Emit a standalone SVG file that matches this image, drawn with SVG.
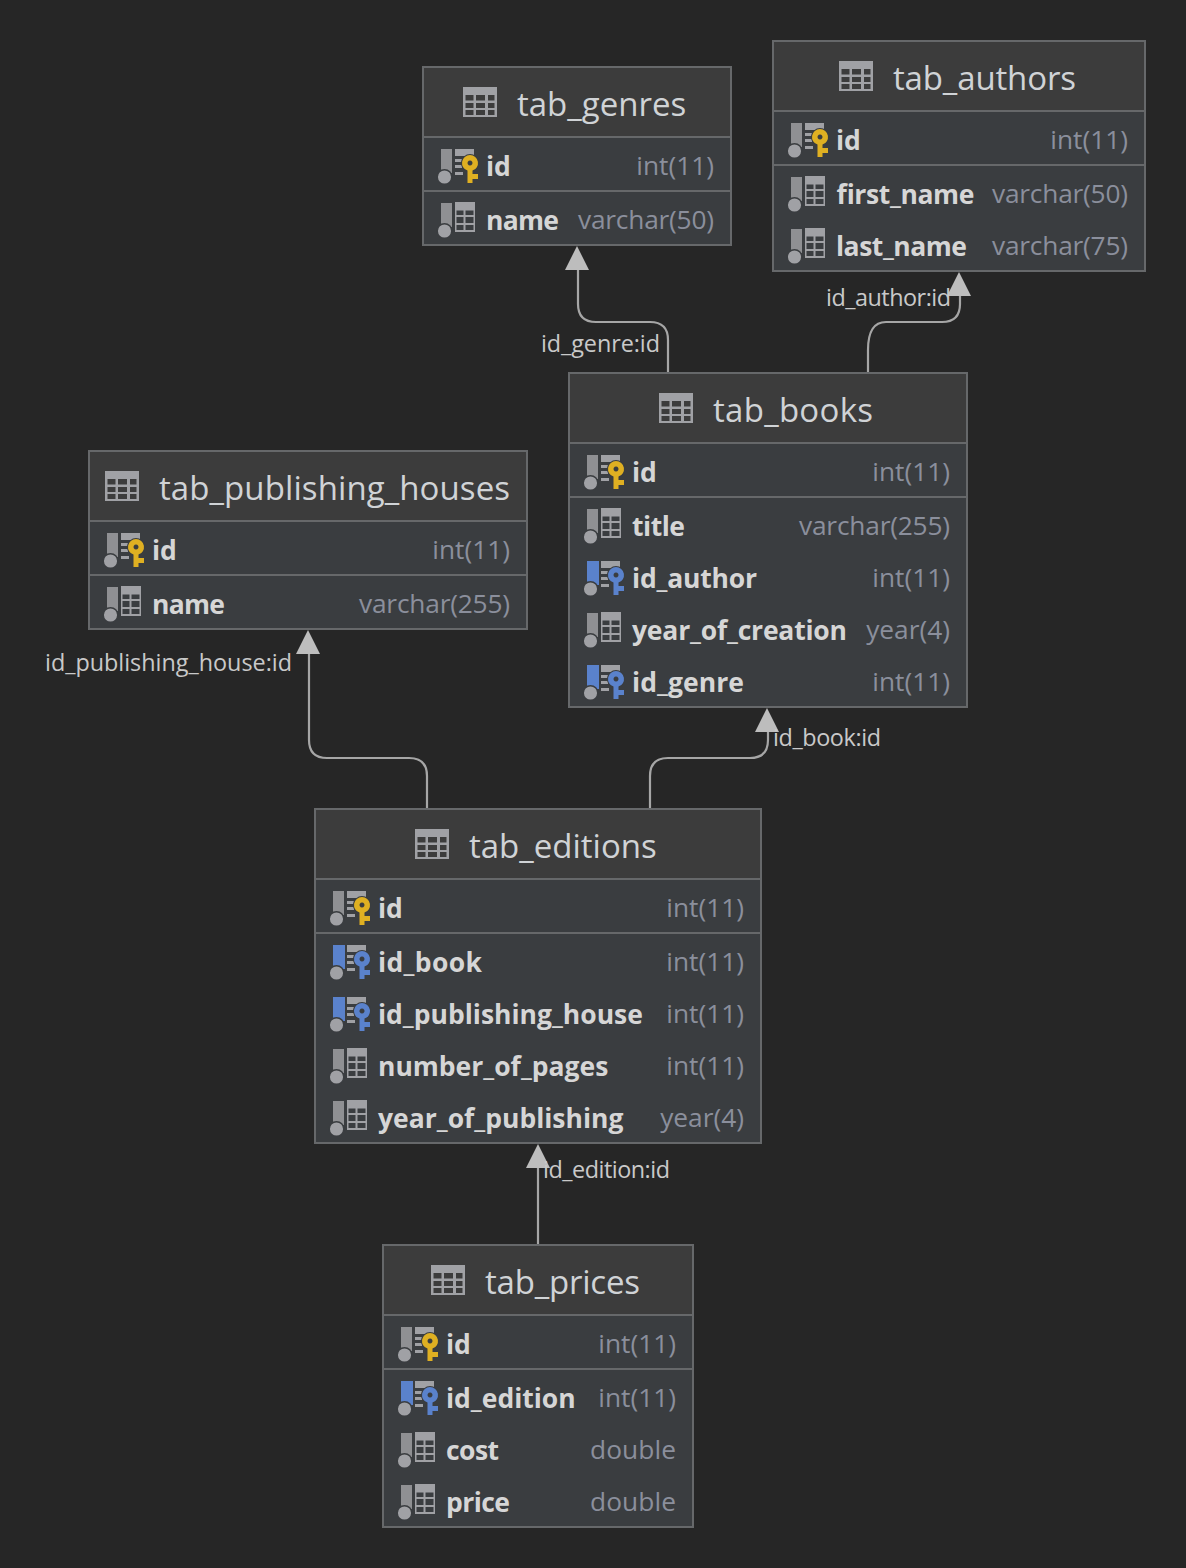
<svg xmlns="http://www.w3.org/2000/svg" width="1186" height="1568" viewBox="0 0 1186 1568">
<style>
text{font-family:"Open Sans","Noto Sans","Liberation Sans",sans-serif}
.box{fill:#3a3d40;stroke:#66686a;stroke-width:2}
.hdr{fill:#3c3c3c}
.sep{stroke:#66686a;stroke-width:2}
.title{font-size:33px;fill:#d0d3d6}
.col{font-size:26.5px;font-weight:700;fill:#d6d6d6}
.typ{font-size:26.3px;fill:#8b8f9c;text-anchor:end}
.lab{font-size:23.4px;fill:#c9c9c9}
.conn{fill:none;stroke:#a6a6a6;stroke-width:2.2}
.arr{fill:#bdbdbd}
</style>
<defs>
<g id="tbl"><path fill="#a0a1a5" fill-rule="evenodd" d="M0 0H34V30H0ZM2.500 8V13.500H10.500V8ZM13 8V13.500H22V8ZM25 8V13.500H31.500V8ZM2.500 16V21H10.500V16ZM13 16V21H22V16ZM25 16V21H31.500V16ZM2.500 23V28H10.500V23ZM13 23V28H22V23ZM25 23V28H31.500V23Z"/></g>
<g id="bar"><rect x="0" y="-17" width="11" height="24" fill="#8f9093"/><circle cx="3.500" cy="11" r="7.300" fill="#a0a1a5" stroke="#3a3d40" stroke-width="1.500"/></g>
<g id="barfk"><rect x="0" y="-17" width="12" height="24" fill="#5a82cc"/><circle cx="3.500" cy="11" r="7.300" fill="#a0a1a5" stroke="#3a3d40" stroke-width="1.500"/></g>
<g id="grid"><path fill="#a0a1a5" fill-rule="evenodd" d="M14-18H34V12H14ZM15.500-9.500V-5H22.500V-9.500ZM24.500-9.500V-5H32.500V-9.500ZM15.500-3V3H22.500V-3ZM24.500-3V3H32.500V-3ZM15.500 5V10H22.500V5ZM24.500 5V10H32.500V5Z"/></g>
<g id="lines"><path fill="#a0a1a5" d="M14-17H33V-10H14ZM14-7H22V-4H14ZM14-1H21V2H14ZM14 6H22V9H14Z"/></g>
<g id="key"><path stroke="#3a3d40" stroke-width="2" paint-order="stroke" fill-rule="evenodd" d="M29-11a8 8 0 0 1 2.500 15.600V8H37V13H31.500V17H26.500V4.600A8 8 0 0 1 29-11ZM29-5.500a2.500 2.500 0 1 0 .01 0Z"/></g>
<g id="pk"><use href="#bar"/><use href="#lines"/><use href="#key" fill="#dfb022"/></g>
<g id="fk"><use href="#barfk"/><use href="#lines"/><use href="#key" fill="#5a82cc"/></g>
<g id="plain"><use href="#bar"/><use href="#grid"/></g>
</defs>
<rect width="1186" height="1568" fill="#262626"/>
<g id="connectors">
<path class="conn" d="M668 372V340Q668 322 650 322H596Q578 322 578 304V268"/>
<path class="arr" d="M577 246L589 270H565Z"/>
<path class="conn" d="M868 372V350Q868 322 886 322H942Q960 322 960 304V294"/>
<path class="arr" d="M959 272L971 296H947Z"/>
<path class="conn" d="M427 808V776Q427 758 409 758H327Q309 758 309 740V652"/>
<path class="arr" d="M308 630L320 654H296Z"/>
<path class="conn" d="M650 808V776Q650 758 668 758H750Q768 758 768 740V730"/>
<path class="arr" d="M767 708L779 732H755Z"/>
<path class="conn" d="M538 1244V1166"/>
<path class="arr" d="M538 1144L550 1168H526Z"/>
<text class="lab" x="541" y="352" textLength="119">id_genre:id</text>
<text class="lab" x="826" y="306" textLength="125">id_author:id</text>
<text class="lab" x="45" y="671" textLength="247">id_publishing_house:id</text>
<text class="lab" x="773" y="746" textLength="108">id_book:id</text>
<text class="lab" x="543" y="1178" textLength="127">id_edition:id</text>
</g>
<g id="tab_genres">
<rect class="box" x="423" y="67" width="308" height="178"/><rect class="hdr" x="424" y="68" width="306" height="69"/>
<path class="sep" d="M423 137H731M423 191H731"/>
<use href="#tbl" x="463" y="87"/><text class="title" x="517" y="116">tab_genres</text>
<use href="#pk" x="441" y="166"/><text class="col" x="486" y="176">id</text><text class="typ" x="714" y="175">int(11)</text>
<use href="#plain" x="441" y="220"/><text class="col" x="486" y="230" textLength="73">name</text><text class="typ" x="714" y="229" textLength="136">varchar(50)</text>
</g>
<g id="tab_authors">
<rect class="box" x="773" y="41" width="372" height="230"/><rect class="hdr" x="774" y="42" width="370" height="69"/>
<path class="sep" d="M773 111H1145M773 165H1145"/>
<use href="#tbl" x="839" y="61"/><text class="title" x="893" y="90" textLength="183">tab_authors</text>
<use href="#pk" x="791" y="140"/><text class="col" x="836" y="150">id</text><text class="typ" x="1128" y="149">int(11)</text>
<use href="#plain" x="791" y="194"/><text class="col" x="836" y="204" textLength="138">first_name</text><text class="typ" x="1128" y="203" textLength="136">varchar(50)</text>
<use href="#plain" x="791" y="246"/><text class="col" x="836" y="256" textLength="131">last_name</text><text class="typ" x="1128" y="255" textLength="136">varchar(75)</text>
</g>
<g id="tab_books">
<rect class="box" x="569" y="373" width="398" height="334"/><rect class="hdr" x="570" y="374" width="396" height="69"/>
<path class="sep" d="M569 443H967M569 497H967"/>
<use href="#tbl" x="659" y="393"/><text class="title" x="713" y="422" textLength="160">tab_books</text>
<use href="#pk" x="587" y="472"/><text class="col" x="632" y="482">id</text><text class="typ" x="950" y="481">int(11)</text>
<use href="#plain" x="587" y="526"/><text class="col" x="632" y="536" textLength="53">title</text><text class="typ" x="950" y="535" textLength="151">varchar(255)</text>
<use href="#fk" x="587" y="578"/><text class="col" x="632" y="588" textLength="125">id_author</text><text class="typ" x="950" y="587">int(11)</text>
<use href="#plain" x="587" y="630"/><text class="col" x="632" y="640" textLength="215">year_of_creation</text><text class="typ" x="950" y="639">year(4)</text>
<use href="#fk" x="587" y="682"/><text class="col" x="632" y="692" textLength="112">id_genre</text><text class="typ" x="950" y="691">int(11)</text>
</g>
<g id="tab_publishing_houses">
<rect class="box" x="89" y="451" width="438" height="178"/><rect class="hdr" x="90" y="452" width="436" height="69"/>
<path class="sep" d="M89 521H527M89 575H527"/>
<use href="#tbl" x="105" y="471"/><text class="title" x="159" y="500" textLength="351">tab_publishing_houses</text>
<use href="#pk" x="107" y="550"/><text class="col" x="152" y="560">id</text><text class="typ" x="510" y="559">int(11)</text>
<use href="#plain" x="107" y="604"/><text class="col" x="152" y="614" textLength="73">name</text><text class="typ" x="510" y="613" textLength="151">varchar(255)</text>
</g>
<g id="tab_editions">
<rect class="box" x="315" y="809" width="446" height="334"/><rect class="hdr" x="316" y="810" width="444" height="69"/>
<path class="sep" d="M315 879H761M315 933H761"/>
<use href="#tbl" x="415" y="829"/><text class="title" x="469" y="858">tab_editions</text>
<use href="#pk" x="333" y="908"/><text class="col" x="378" y="918">id</text><text class="typ" x="744" y="917">int(11)</text>
<use href="#fk" x="333" y="962"/><text class="col" x="378" y="972" textLength="104">id_book</text><text class="typ" x="744" y="971">int(11)</text>
<use href="#fk" x="333" y="1014"/><text class="col" x="378" y="1024">id_publishing_house</text><text class="typ" x="744" y="1023">int(11)</text>
<use href="#plain" x="333" y="1066"/><text class="col" x="378" y="1076">number_of_pages</text><text class="typ" x="744" y="1075">int(11)</text>
<use href="#plain" x="333" y="1118"/><text class="col" x="378" y="1128">year_of_publishing</text><text class="typ" x="744" y="1127">year(4)</text>
</g>
<g id="tab_prices">
<rect class="box" x="383" y="1245" width="310" height="282"/><rect class="hdr" x="384" y="1246" width="308" height="69"/>
<path class="sep" d="M383 1315H693M383 1369H693"/>
<use href="#tbl" x="431" y="1265"/><text class="title" x="485" y="1294" textLength="155">tab_prices</text>
<use href="#pk" x="401" y="1344"/><text class="col" x="446" y="1354">id</text><text class="typ" x="676" y="1353">int(11)</text>
<use href="#fk" x="401" y="1398"/><text class="col" x="446" y="1408">id_edition</text><text class="typ" x="676" y="1407">int(11)</text>
<use href="#plain" x="401" y="1450"/><text class="col" x="446" y="1460" textLength="53">cost</text><text class="typ" x="676" y="1459" textLength="86">double</text>
<use href="#plain" x="401" y="1502"/><text class="col" x="446" y="1512" textLength="64">price</text><text class="typ" x="676" y="1511" textLength="86">double</text>
</g>
</svg>
